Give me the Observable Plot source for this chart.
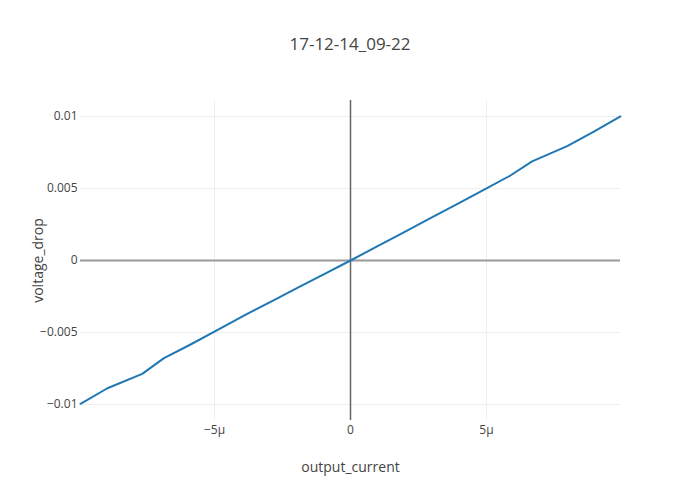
<!DOCTYPE html>
<html>
<head>
<meta charset="utf-8">
<script src="https://cdn.jsdelivr.net/npm/d3@7"></script>
<script src="https://cdn.jsdelivr.net/npm/@observablehq/plot@0.6"></script>
<style>
  body { margin: 0; background: #fff; font-family: "Open Sans", sans-serif; }
  #wrap { width: 700px; }
  #title { height: 70px; text-align: center; font-size: 17px; color: #444; line-height: 1; padding-top: 0; position: relative; }
  #title span { position: absolute; left: 0; right: 0; top: 35px; }
</style>
</head>
<body>
<div id="wrap">
  <div id="title"><span>17-12-14_09-22</span></div>
  <div id="chart"></div>
</div>
<script>
const titleText = "17-12-14_09-22";
const xLabel = "output_current";
const yLabel = "voltage_drop";
// output current (A)
const outputCurrent = [-9.93e-6, -8.94e-6, -7.66e-6, -6.86e-6, -5.9e-6, -4.85e-6, -3.80e-6, -2.85e-6, -1.9e-6, -0.95e-6, 0,
  0.98e-6, 1.96e-6, 2.94e-6, 3.92e-6, 4.9e-6, 5.88e-6, 6.68e-6, 7.97e-6, 8.95e-6, 9.93e-6];
// voltage drop (V)
const voltageDrop = [-0.00995, -0.00887, -0.00787, -0.00678, -0.00585, -0.00478, -0.0037, -0.00278, -0.00185, -0.00093, 0,
  0.00098, 0.00196, 0.00294, 0.00392, 0.0049, 0.0059, 0.00688, 0.00794, 0.00895, 0.01];
const xTicks = [-5e-6, 0, 5e-6];
const xTickLabels = ["−5μ", "0", "5μ"];
const yTicks = [-0.01, -0.005, 0, 0.005, 0.01];
const yTickLabels = ["−0.01", "−0.005", "0", "0.005", "0.01"];

document.querySelector("#title span").textContent = titleText;
const data = outputCurrent.map((x, i) => ({x, y: voltageDrop[i]}));

const chart = Plot.plot({
  width: 700,
  height: 430,
  marginTop: 30,
  marginBottom: 80,
  marginLeft: 80,
  marginRight: 80,
  style: {fontFamily: "Open Sans", fontSize: "12px", color: "#444", background: "#fff"},
  x: {domain: [-9.93e-6, 9.93e-6]},
  y: {domain: [-0.01111, 0.01111]},
  marks: [
    Plot.gridX(xTicks.filter(d => d !== 0), {stroke: "#eee", strokeOpacity: 1}),
    Plot.gridY(yTicks.filter(d => d !== 0), {stroke: "#eee", strokeOpacity: 1}),
    Plot.ruleY([0], {stroke: "#999", strokeWidth: 2}),
    Plot.ruleX([0], {stroke: "#666", strokeWidth: 1.5}),
    Plot.line(data, {x: "x", y: "y", stroke: "#1f77b4", strokeWidth: 2}),
    Plot.axisX({ticks: xTicks, tickFormat: d => xTickLabels[xTicks.indexOf(d)], tickSize: 0, tickPadding: 5, label: null, fill: "#444"}),
    Plot.axisY({ticks: yTicks, tickFormat: d => yTickLabels[yTicks.indexOf(d)], tickSize: 0, tickPadding: 3, label: null, fill: "#444"}),
    Plot.text([xLabel], {text: d => d, frameAnchor: "bottom", dy: 51, fontSize: 14, fill: "#444"}),
    Plot.text([yLabel], {text: d => d, frameAnchor: "left", textAnchor: "middle", dx: -42, rotate: -90, fontSize: 14, fill: "#444"})
  ]
});
document.getElementById("chart").appendChild(chart);
</script>
</body>
</html>
